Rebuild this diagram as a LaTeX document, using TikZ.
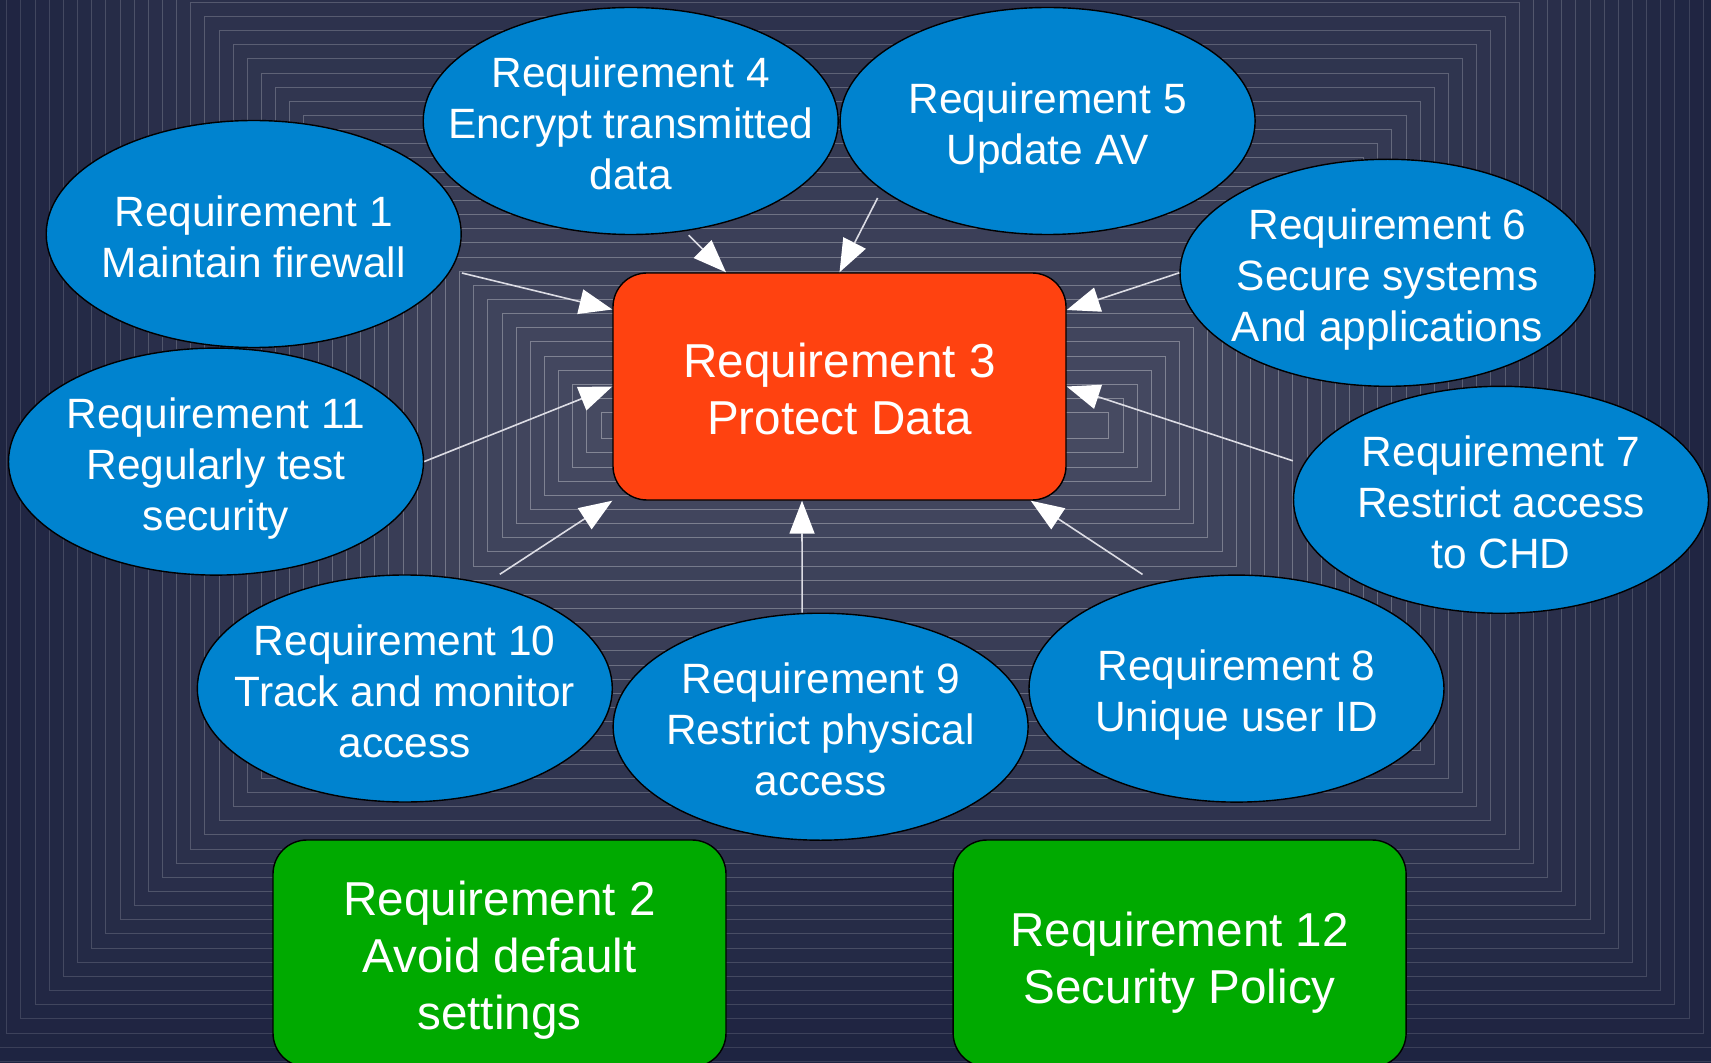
\documentclass[tikz,border=0pt]{standalone}
\usepackage{fontspec}
\setmainfont{Liberation Sans}
\usetikzlibrary{shapes.geometric,arrows.meta,calc}

\definecolor{bgout}{HTML}{1D2340}
\definecolor{bgin}{HTML}{474B62}
\definecolor{reqblue}{HTML}{0083CF}
\definecolor{reqorange}{HTML}{FF4210}
\definecolor{reqgreen}{HTML}{00AA00}
\definecolor{linkgray}{HTML}{DCDCE4}

\begin{document}
\begin{tikzpicture}[x=0.5pt,y=-0.5pt,
  reqtext/.style={text=white, align=center, inner sep=0pt,
    font=\fontsize{21.2pt}{25.5pt}\selectfont},
  keytext/.style={text=white, align=center, inner sep=0pt,
    font=\fontsize{23.8pt}{28.5pt}\selectfont},
  req/.style 2 args={ellipse, draw=black, line width=0.7pt, fill=reqblue,
    minimum width=207.5pt, minimum height=113.5pt, inner sep=0pt,
    label={[reqtext, yshift=-#2]center:#1}},
  keybox/.style 2 args={rectangle, rounded corners=17pt, draw=black, line width=0.7pt,
    minimum width=226.5pt, minimum height=113.5pt, inner sep=0pt,
    label={[keytext, yshift=-#2]center:#1}},
  link/.style={draw=linkgray, line width=0.8pt,
    -{Triangle[length=16.5pt,width=12.5pt,color=white]}}
]
\useasboundingbox (0,0) rectangle (1711,1063);
\clip (0,0) rectangle (1711,1063);

% stepped rectangular gradient, lighter towards the middle
\foreach \k in {-3,...,42}{
  \pgfmathsetmacro{\hw}{848.2-14.15*\k}
  \pgfmathsetmacro{\hh}{607.3-14.15*\k}
  \pgfmathtruncatemacro{\fp}{100*(\k+3)/45}
  \pgfmathtruncatemacro{\lp}{12+22*(\k+3)/45}
  \colorlet{bandfill}{bgin!\fp!bgout}
  \colorlet{bandline}{white!\lp!bandfill}
  \path[fill=bandfill, draw=bandline, line width=0.5pt]
    (855-\hw,425.7-\hh) rectangle (855+\hw,425.7+\hh);
}

% central requirement
\node[keybox={Requirement 3\\Protect Data}{1.1pt}, fill=reqorange] (r3) at (839.5,386.5) {};

% surrounding requirements
\node[req={Requirement 1\\Maintain firewall}{1.6pt}] (r1) at (253.7,234) {};
\node[req={Requirement 4\\Encrypt transmitted\\data}{1.4pt}] (r4) at (630.7,121) {};
\node[req={Requirement 5\\Update AV}{3.3pt}] (r5) at (1047.6,121) {};
\node[req={Requirement 6\\Secure systems\\And applications}{3.5pt}] (r6) at (1387.5,272.8) {};
\node[req={Requirement 7\\Restrict access\\to CHD}{1.1pt}] (r7) at (1501,499.8) {};
\node[req={Requirement 8\\Unique user ID}{3pt}] (r8) at (1236.5,688.6) {};
\node[req={Requirement 9\\Restrict physical\\access}{1.1pt}] (r9) at (820.6,726.7) {};
\node[req={Requirement 10\\Track and monitor\\access}{1.6pt}] (r10) at (404.8,688.5) {};
\node[req={Requirement 11\\Regularly test\\security}{3.3pt}] (r11) at (216,461.6) {};

% standalone requirements
\node[keybox={Requirement 2\\Avoid default\\settings}{3.3pt}, fill=reqgreen] (r2) at (499.5,953.5) {};
\node[keybox={Requirement 12\\Security Policy}{4.4pt}, fill=reqgreen] (r12) at (1179.6,953.5) {};

% links into requirement 3
\draw[link] ($(r1.east)+(0,39)$) -- ($(r3.west)+(0,-77)$);
\draw[link] ($(r4.south)+(58,0)$) -- ($(r3.north)+(-113.5,0)$);
\draw[link] ($(r5.center)+(-170,77)$) -- (r3.north);
\draw[link] (r6.west) -- ($(r3.east)+(0,-76.5)$);
\draw[link] ($(r7.west)+(0,-39)$) -- (r3.east);
\draw[link] ($(r8.north)+(-94,0)$) -- ($(r3.south east)+(-36,0)$);
\draw[link] ($(r9.north)+(-18.5,0)$) -- ($(r3.south)+(-37.5,0)$);
\draw[link] ($(r10.north)+(95,0)$) -- (r3.south west);
\draw[link] (r11.east) -- (r3.west);
\end{tikzpicture}
\end{document}
